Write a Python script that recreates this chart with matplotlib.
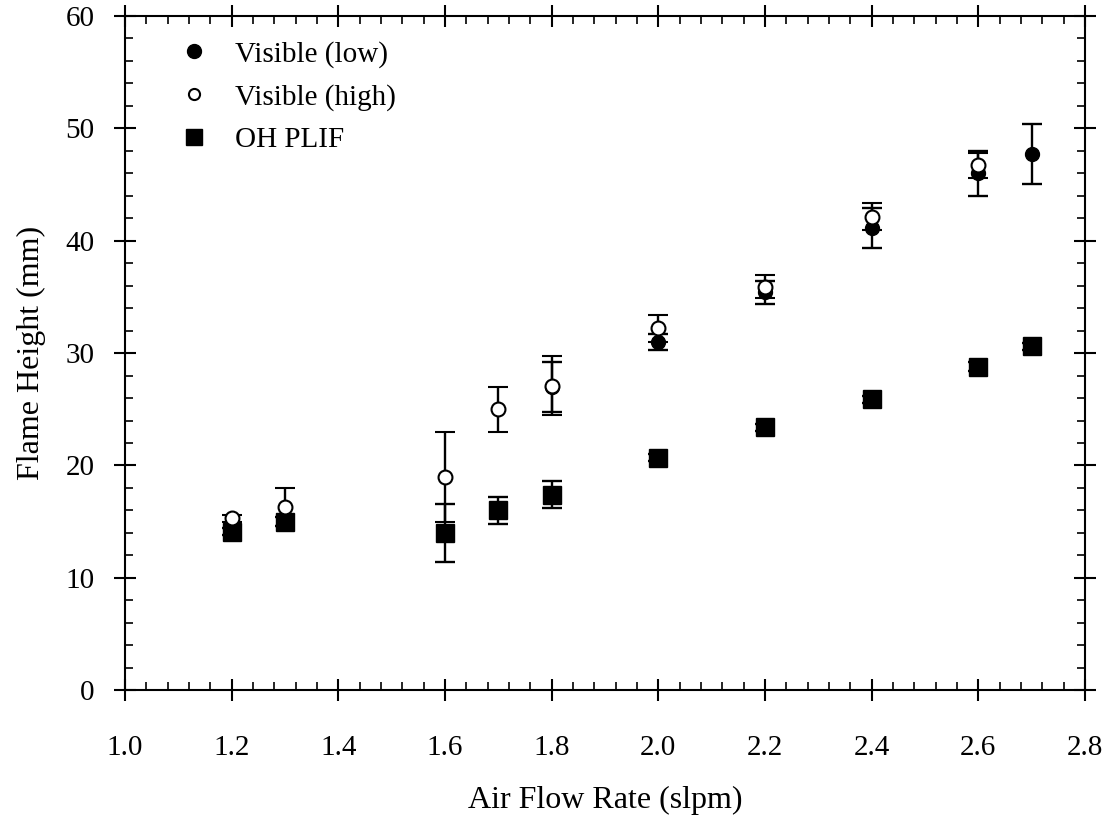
import numpy as np
import matplotlib.pyplot as plt
from matplotlib.lines import Line2D
from matplotlib.ticker import MultipleLocator, FormatStrFormatter

plt.rcParams['font.family'] = ['Liberation Serif', 'DejaVu Serif']

# Visible (low) - filled circles
x_low = [1.8, 2.0, 2.2, 2.4, 2.6, 2.7]
y_low = [27.0, 31.0, 35.4, 41.1, 46.0, 47.7]
e_low = [2.2, 0.7, 1.0, 1.8, 2.0, 2.7]

# Visible (high) - open circles
x_high = [1.2, 1.3, 1.6, 1.7, 1.8, 2.0, 2.2, 2.4, 2.6]
y_high = [15.3, 16.3, 19.0, 25.0, 27.1, 32.2, 35.9, 42.1, 46.7]
e_high = [0.3, 1.7, 4.0, 2.0, 2.6, 1.2, 1.0, 1.2, 1.1]

# OH PLIF - filled squares
x_oh = [1.2, 1.3, 1.6, 1.7, 1.8, 2.0, 2.2, 2.4, 2.6, 2.7]
y_oh = [14.1, 15.0, 14.0, 16.0, 17.4, 20.7, 23.4, 25.9, 28.8, 30.6]
e_oh = [0.3, 0.4, 2.6, 1.2, 1.2, 0.3, 0.3, 0.3, 0.4, 0.3]

labels = ['Visible (low)', 'Visible (high)', 'OH PLIF']

fig = plt.figure(figsize=(11.09, 8.18), dpi=100)
ax = fig.add_axes([0.1127, 0.1559, 0.8657, 0.8251])

eb = dict(ecolor='black', elinewidth=1.7, capsize=7.5, capthick=1.7, linestyle='none')
ax.errorbar(x_oh, y_oh, yerr=e_oh, fmt='s', ms=13, mfc='black', mec='black', **eb)
ax.errorbar(x_low, y_low, yerr=e_low, fmt='o', ms=10, mfc='black', mec='black', **eb)
ax.errorbar(x_high, y_high, yerr=e_high, fmt='o', ms=10, mfc='white', mec='black',
            mew=1.5, **eb)

ax.set_xlim(1.0, 2.8)
ax.set_ylim(0, 60)
ax.xaxis.set_major_locator(MultipleLocator(0.2))
ax.xaxis.set_minor_locator(MultipleLocator(0.04))
ax.yaxis.set_major_locator(MultipleLocator(10))
ax.yaxis.set_minor_locator(MultipleLocator(2))
ax.xaxis.set_major_formatter(FormatStrFormatter('%.1f'))

for s in ax.spines.values():
    s.set_linewidth(1.5)
ax.tick_params(which='major', direction='inout', length=16, width=1.5,
               top=True, right=True, labelsize=21)
ax.tick_params(which='minor', direction='in', length=6, width=1.2,
               top=True, right=True)
ax.tick_params(axis='x', which='major', pad=24)
ax.tick_params(axis='y', which='major', pad=14)

ax.set_xlabel('Air Flow Rate (slpm)', fontsize=23, labelpad=18)
ax.set_ylabel('Flame Height (mm)', fontsize=23, labelpad=14)

handles = [
    Line2D([], [], marker='o', ls='none', ms=10, mfc='black', mec='black'),
    Line2D([], [], marker='o', ls='none', ms=8, mfc='white', mec='black', mew=1.5),
    Line2D([], [], marker='s', ls='none', ms=12, mfc='black', mec='black'),
]
ax.legend(handles, labels, loc='upper left', frameon=False, fontsize=21,
          handlelength=1.0, handletextpad=0.9, labelspacing=0.55,
          borderpad=0.4, borderaxespad=0.0, bbox_to_anchor=(0.045, 0.98))

fig.savefig('out.png', dpi=100)
